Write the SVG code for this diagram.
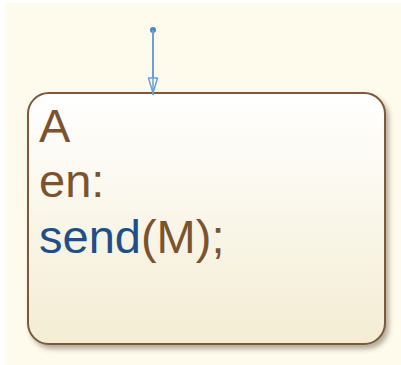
<svg xmlns="http://www.w3.org/2000/svg" width="401" height="365" viewBox="0 0 401 365">
<style>
.lbl{font-family:"Liberation Sans",Arial,sans-serif;font-size:47px;fill:#7B532D}
.kw{fill:#1D4F8A}
</style>
<defs>
<linearGradient id="g" x1="0" y1="0" x2="0" y2="1">
<stop offset="0" stop-color="#FFFFFF"/>
<stop offset="1" stop-color="#F4EDD3"/>
</linearGradient>
<filter id="sh" x="-10%" y="-10%" width="125%" height="125%">
<feDropShadow dx="3" dy="4" stdDeviation="2.5" flood-color="#5a4a30" flood-opacity="0.45"/>
</filter>
</defs>
<rect x="5" y="3" width="396" height="362" fill="#FEFBEC"/>
<g id="stateA">
<rect x="28" y="93" width="357" height="251" rx="21" ry="21" fill="url(#g)" stroke="#7A5A3A" stroke-width="2" filter="url(#sh)"/>
<text class="lbl" x="39" y="142">A</text>
<text class="lbl" x="39" y="197">en:</text>
<text class="lbl" x="39" y="253"><tspan class="kw">send</tspan>(M);</text>
</g>
<g id="connectors">
<circle cx="153" cy="30" r="3" fill="#4A86C8"/>
<line x1="153" y1="30" x2="153" y2="95" stroke="#6A9FDA" stroke-width="2"/>
<path d="M148.5,78 L157.5,78 L153,93 Z" fill="#FFFFFF" stroke="#6A9FDA" stroke-width="1.5" stroke-linejoin="round"/>
<line x1="153" y1="78" x2="153" y2="95" stroke="#6A9FDA" stroke-width="1.5"/>
</g>
</svg>
